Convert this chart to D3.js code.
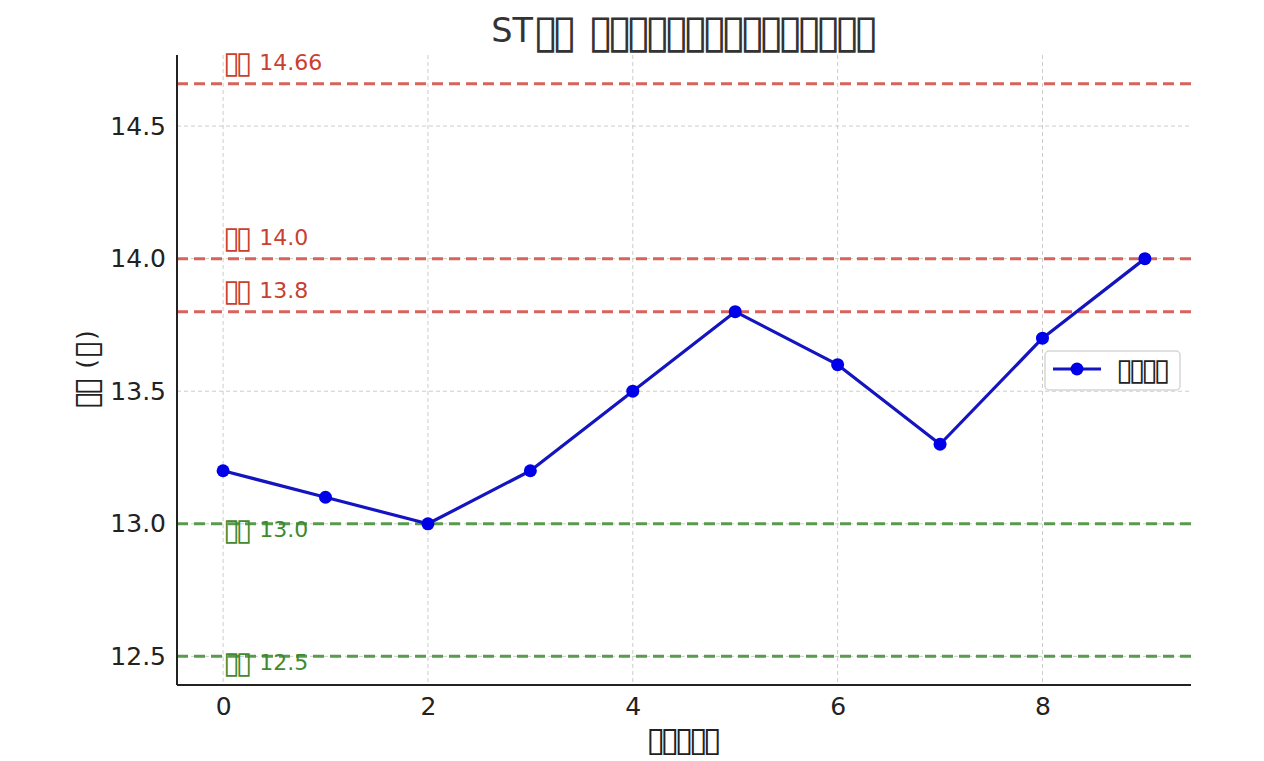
<!DOCTYPE html>
<html>
<head>
<meta charset="utf-8">
<script src="https://cdn.jsdelivr.net/npm/d3@7"></script>
<style>
  html, body { margin: 0; padding: 0; background: #ffffff; }
  svg { display: block; }
  text { font-family: "DejaVu Sans", sans-serif; }
</style>
</head>
<body>
<svg id="chart" width="1264" height="761"></svg>
<script>
// ---- data ----
const B = "\u25AF"; // missing-glyph box as shown in the reference
const titleText = "ST" + B + B + " " + B.repeat(15);
const xLabel = B.repeat(5);
const yLabel = B + B + " (" + B + ")";
const seriesName = B.repeat(4);

const days = [0, 1, 2, 3, 4, 5, 6, 7, 8, 9];
const prices = [13.2, 13.1, 13.0, 13.2, 13.5, 13.8, 13.6, 13.3, 13.7, 14.0];

const levelValues = [14.66, 14.0, 13.8, 13.0, 12.5];
const levelKinds = ["up", "up", "up", "down", "down"];
const levelLabels = [B + B + " 14.66", B + B + " 14.0", B + B + " 13.8", B + B + " 13.0", B + B + " 12.5"];

const xTicks = [0, 2, 4, 6, 8];
const yTicks = [12.5, 13.0, 13.5, 14.0, 14.5];

// ---- helpers ----
function setBoxText(sel, str) {
  sel.text(null);
  const runs = str.match(/\u25AF+|[^\u25AF]+/g) || [];
  runs.forEach(r => {
    if (r[0] === B) {
      const head = r.slice(0, -1), last = r.slice(-1);
      if (head.length) {
        sel.append("tspan").text(head)
          .attr("font-size", "1.38em").attr("letter-spacing", "-0.14em")
          .attr("baseline-shift", "-0.1em");
      }
      sel.append("tspan").text(last)
        .attr("font-size", "1.38em").attr("baseline-shift", "-0.1em");
    } else {
      sel.append("tspan").text(r);
    }
  });
}

// ---- layout ----
const svg = d3.select("#chart");
const L = 177, R = 1191, T = 55, Bt = 685;

const x = d3.scaleLinear().domain([-0.45, 9.45]).range([L, R]);
const y = d3.scaleLinear().domain([12.392, 14.768]).range([Bt, T]);

const lineColor = { up: "#d8625c", down: "#5a9a4e" };
const textColor = { up: "#c8402f", down: "#3f8a30" };

// grid
const grid = svg.append("g");
grid.selectAll("line.gx").data(xTicks).join("line")
  .attr("x1", d => x(d)).attr("x2", d => x(d))
  .attr("y1", T).attr("y2", Bt)
  .attr("stroke", "#cccccc").attr("stroke-width", 1).attr("stroke-dasharray", "4,3");
grid.selectAll("line.gy").data(yTicks).join("line")
  .attr("x1", L).attr("x2", R)
  .attr("y1", d => y(d)).attr("y2", d => y(d))
  .attr("stroke", "#cccccc").attr("stroke-width", 1).attr("stroke-dasharray", "4,3");

// reference levels
svg.append("g").selectAll("line").data(levelValues).join("line")
  .attr("x1", L).attr("x2", R)
  .attr("y1", d => y(d)).attr("y2", d => y(d))
  .attr("stroke", (d, i) => lineColor[levelKinds[i]])
  .attr("stroke-width", 3)
  .attr("stroke-dasharray", "11,6");

// axes
const xAxis = d3.axisBottom(x).tickValues(xTicks).tickFormat(d3.format("d")).tickSize(0).tickPadding(12);
const yAxis = d3.axisLeft(y).tickValues(yTicks).tickFormat(d3.format(".1f")).tickSize(0).tickPadding(11);

const gx = svg.append("g").attr("transform", `translate(0,${Bt})`).call(xAxis);
const gy = svg.append("g").attr("transform", `translate(${L},0)`).call(yAxis);
[gx, gy].forEach(g => {
  g.select(".domain").attr("stroke", "#222222").attr("stroke-width", 2);
  g.selectAll("text").attr("font-size", 25).attr("fill", "#222222")
    .attr("font-family", "DejaVu Sans, sans-serif");
});
gx.select(".domain").attr("d", `M${L},0H${R}`);
gy.select(".domain").attr("d", `M0,${Bt}V${T}`);

// data line
const line = d3.line().x((d, i) => x(days[i])).y(d => y(d));
svg.append("path").datum(prices)
  .attr("d", line)
  .attr("fill", "none")
  .attr("stroke", "#1414c0")
  .attr("stroke-width", 3.2)
  .attr("stroke-linejoin", "round");
svg.append("g").selectAll("circle").data(prices).join("circle")
  .attr("cx", (d, i) => x(days[i])).attr("cy", d => y(d))
  .attr("r", 6.5).attr("fill", "#0000e8");

// level labels
svg.append("g").selectAll("text").data(levelValues).join("text")
  .attr("x", x(0))
  .attr("y", (d, i) => y(levelKinds[i] === "up" ? d + 0.05 : d - 0.05))
  .attr("font-size", 22)
  .attr("fill", (d, i) => textColor[levelKinds[i]])
  .each(function (d, i) { setBoxText(d3.select(this), levelLabels[i]); });

// title and axis labels
svg.append("text").attr("x", 685).attr("y", 42)
  .attr("text-anchor", "middle").attr("font-size", 33.5).attr("fill", "#333333")
  .call(setBoxText, titleText);
svg.append("text").attr("x", 684).attr("y", 748)
  .attr("text-anchor", "middle").attr("font-size", 25).attr("fill", "#222222")
  .call(setBoxText, xLabel);
svg.append("text")
  .attr("transform", `translate(95,${(T + Bt) / 2}) rotate(-90)`)
  .attr("text-anchor", "middle").attr("font-size", 25).attr("fill", "#222222")
  .call(setBoxText, yLabel);

// legend
const lg = svg.append("g");
lg.append("rect").attr("x", 1045).attr("y", 351).attr("width", 135).attr("height", 39)
  .attr("rx", 4).attr("fill", "rgba(255,255,255,0.8)").attr("stroke", "#d6d6d6").attr("stroke-width", 1.5);
lg.append("line").attr("x1", 1053).attr("x2", 1101).attr("y1", 369).attr("y2", 369)
  .attr("stroke", "#1414c0").attr("stroke-width", 3.2);
lg.append("circle").attr("cx", 1077).attr("cy", 369).attr("r", 6.5).attr("fill", "#0000e8");
lg.append("text").attr("x", 1116).attr("y", 377).attr("font-size", 22).attr("fill", "#222222")
  .call(setBoxText, seriesName);
</script>
</body>
</html>
